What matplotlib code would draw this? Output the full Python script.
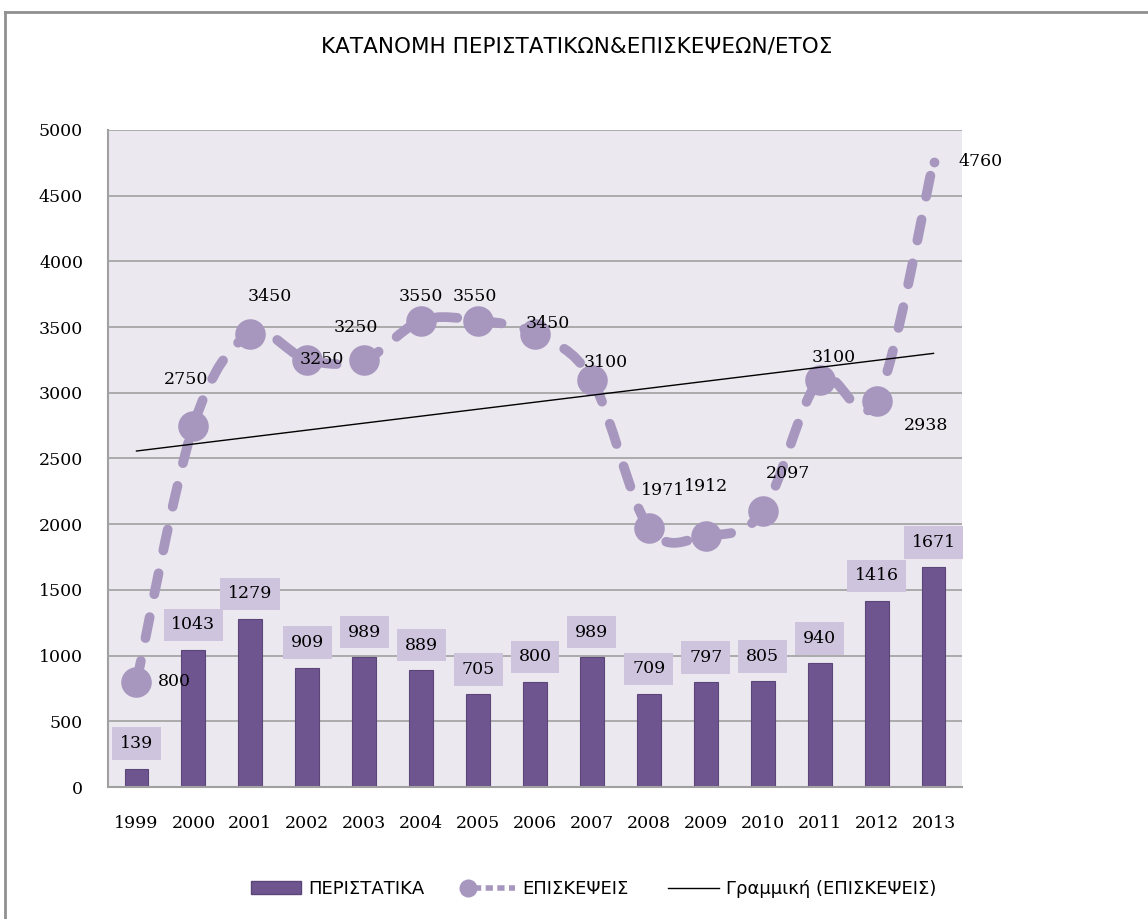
import numpy as np
import matplotlib.pyplot as plt
from matplotlib.path import Path
from matplotlib.patches import PathPatch
from matplotlib.lines import Line2D

years = ['1999', '2000', '2001', '2002', '2003', '2004', '2005', '2006',
         '2007', '2008', '2009', '2010', '2011', '2012', '2013']
cases = [139, 1043, 1279, 909, 989, 889, 705, 800, 989, 709, 797, 805, 940, 1416, 1671]
visits = [800, 2750, 3450, 3250, 3250, 3550, 3550, 3450, 3100, 1971, 1912, 2097, 3100, 2938, 4760]

# label offsets (pixels) and marker sizes
visit_offsets = [(38, 0), (-7, 46), (19, 37), (15, 0), (-8, 32), (0, 24), (-3, 24),
                 (13, 10), (14, 17), (14, 38), (0, 49), (25, 38), (14, 22), (49, -25), (47, 0)]
marker_sizes = [22, 22, 22, 22, 22, 22, 22, 22, 22, 22, 22, 22, 22, 22, 7]

bar_col = '#6E5590'
line_col = '#A797BF'
box_col = '#CEC4DE'
num_font = 'DejaVu Serif'
num_size = 12.5
sans = ['Liberation Sans Narrow', 'DejaVu Sans']

fig = plt.figure(figsize=(11.48, 9.19), dpi=100)
ax = fig.add_axes([108 / 1148, 1 - 787 / 919, (962 - 108) / 1148, (787 - 130) / 919])
ax.set_facecolor('#EBE8EF')

x = np.arange(len(years))
ax.bar(x, cases, width=0.42, color=bar_col, edgecolor='#5C4578', linewidth=0.8,
       zorder=2, label='ΠΕΡΙΣΤΑΤΙΚΑ')
for xi, v in zip(x, cases):
    ax.annotate(str(v), (xi, v), xytext=(0, 25), textcoords='offset pixels',
                ha='center', va='center', fontsize=num_size, family=num_font, zorder=5,
                bbox=dict(boxstyle='square,pad=0.45', fc=box_col, ec='none'))

# smoothed line through the visit values (Catmull-Rom as cubic Bezier)
pts = np.column_stack([x, visits]).astype(float)
verts = [pts[0]]
codes = [Path.MOVETO]
for i in range(len(pts) - 1):
    p0 = pts[max(i - 1, 0)]
    p1 = pts[i]
    p2 = pts[i + 1]
    p3 = pts[min(i + 2, len(pts) - 1)]
    c1 = p1 + (p2 - p0) / 6
    c2 = p2 - (p3 - p1) / 6
    verts += [c1, c2, p2]
    codes += [Path.CURVE4] * 3
curve = PathPatch(Path(verts, codes), fc='none', ec=line_col, lw=7,
                  linestyle=(0, (2.2, 2.4)), capstyle='round', zorder=3)
ax.add_patch(curve)
for xi, v, ms in zip(x, visits, marker_sizes):
    ax.plot(xi, v, 'o', ms=ms, color=line_col, mec='none', zorder=4)
for xi, v, off in zip(x, visits, visit_offsets):
    ax.annotate(str(v), (xi, v), xytext=off, textcoords='offset pixels',
                ha='center', va='center', fontsize=num_size, family=num_font, zorder=6)

# linear trend of visits
k, b = np.polyfit(x, visits, 1)
ax.plot(x[[0, -1]], k * x[[0, -1]] + b, color='black', lw=1, zorder=4)

ax.set_xlim(-0.5, len(years) - 0.5)
ax.set_ylim(0, 5000)
ax.set_yticks(np.arange(0, 5001, 500))
ax.set_xticks(x)
ax.set_xticklabels(years)
ax.tick_params(length=0, labelsize=num_size)
ax.tick_params(axis='x', pad=20)
ax.tick_params(axis='y', pad=18)
for lab in ax.get_xticklabels() + ax.get_yticklabels():
    lab.set_family(num_font)
ax.grid(axis='y', color='#A0A0A0', lw=1.2, zorder=0)
ax.set_axisbelow(True)
for s in ['top', 'right']:
    ax.spines[s].set_visible(False)
for s in ['left', 'bottom']:
    ax.spines[s].set_color('#A0A0A0')
    ax.spines[s].set_linewidth(1.5)

fig.text(0.502, 1 - 47 / 919, 'ΚΑΤΑΝΟΜΗ ΠΕΡΙΣΤΑΤΙΚΩΝ&ΕΠΙΣΚΕΨΕΩΝ/ΕΤΟΣ', ha='center', va='center',
         fontsize=15.5, family=sans)


class DashMarkerHandler:
    def legend_artist(self, legend, orig_handle, fontsize, handlebox):
        x0, y0 = handlebox.xdescent, handlebox.ydescent
        w, h = handlebox.width, handlebox.height
        line = Line2D([x0 + 0.2 * w, x0 + w], [y0 + h / 2] * 2, color=line_col, lw=4,
                      ls=(0, (1.3, 0.8)), transform=handlebox.get_transform())
        dot = Line2D([x0 + 0.08 * w], [y0 + h / 2], marker='o', ms=13, color=line_col,
                     mec='none', ls='none', transform=handlebox.get_transform())
        handlebox.add_artist(line)
        handlebox.add_artist(dot)
        return line


visit_handle = Line2D([], [], color=line_col)
handles = [plt.Rectangle((0, 0), 1, 1, fc=bar_col, ec='#5C4578'),
           visit_handle,
           Line2D([], [], color='black', lw=1)]
fig.legend(handles, ['ΠΕΡΙΣΤΑΤΙΚΑ', 'ΕΠΙΣΚΕΨΕΙΣ', 'Γραμμική (ΕΠΙΣΚΕΨΕΙΣ)'],
           loc='center', bbox_to_anchor=(0.517, 1 - 889 / 919), ncol=3, frameon=False,
           prop={'family': sans, 'size': 13}, handlelength=2.8, handletextpad=0.4,
           columnspacing=2.2, handler_map={visit_handle: DashMarkerHandler()})

# chart area border (top and left edges visible)
fig.add_artist(Line2D([5 / 1148, 5 / 1148], [0, 1 - 12 / 919], color='#909090', lw=2,
                      transform=fig.transFigure))
fig.add_artist(Line2D([5 / 1148, 1], [1 - 12 / 919, 1 - 12 / 919], color='#909090', lw=2,
                      transform=fig.transFigure))

fig.savefig('out.png', dpi=100)
